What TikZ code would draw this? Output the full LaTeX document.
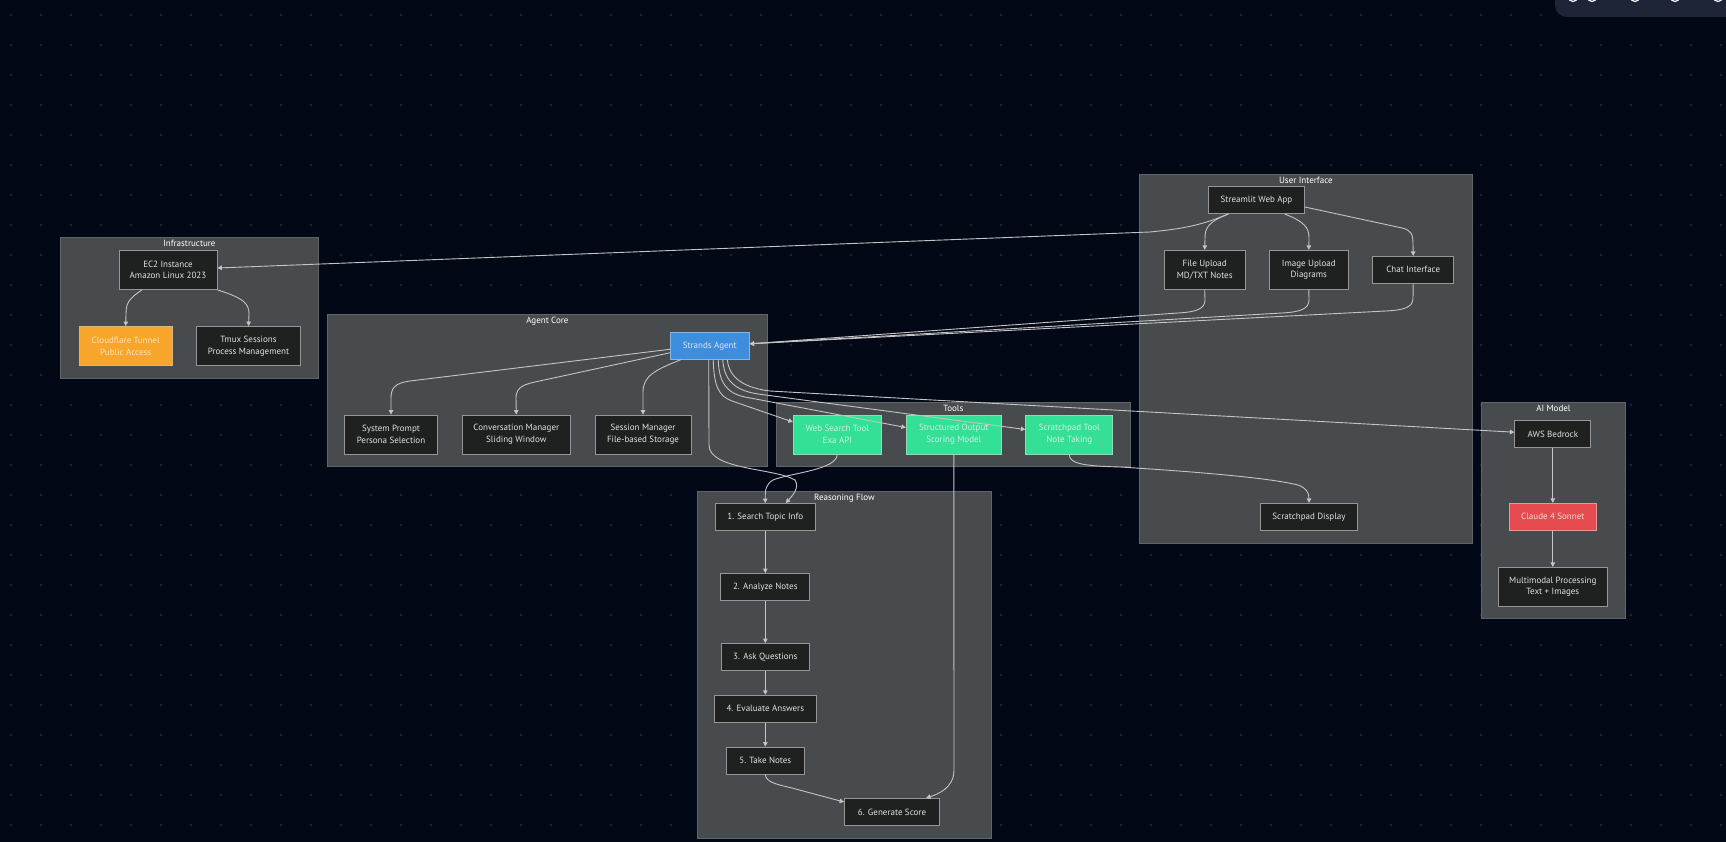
\documentclass[tikz,border=0pt]{standalone}
\usepackage{fontspec}
\setmainfont{PT Sans}
\usepackage{tikz}
\usetikzlibrary{arrows.meta,positioning,calc}
\definecolor{canvasbg}{RGB}{3,8,23}
\definecolor{gridpt}{RGB}{27,33,47}
\definecolor{toolbarbg}{RGB}{30,37,54}
\definecolor{clusterfill}{RGB}{72,75,77}
\definecolor{clusterline}{RGB}{98,101,104}
\definecolor{nodefill}{RGB}{31,32,32}
\definecolor{nodeline}{RGB}{150,150,150}
\definecolor{nodetext}{RGB}{226,226,226}
\definecolor{edgecol}{RGB}{196,196,196}
\definecolor{tunnelorange}{RGB}{248,165,44}
\definecolor{tunneltext}{RGB}{252,228,190}
\definecolor{tunnelline}{RGB}{214,184,128}
\definecolor{agentblue}{RGB}{62,142,222}
\definecolor{agenttext}{RGB}{218,230,242}
\definecolor{agentline}{RGB}{140,178,222}
\definecolor{toolgreen}{RGB}{52,224,150}
\definecolor{tooltext}{RGB}{205,242,224}
\definecolor{toolline}{RGB}{150,216,186}
\definecolor{modelred}{RGB}{230,75,80}
\definecolor{modeltext}{RGB}{250,216,216}
\definecolor{modelline}{RGB}{232,150,150}
\newcommand{\labelfont}{\fontsize{9}{11.7}\selectfont}
\tikzset{
  clusterbox/.style={rectangle,fill=clusterfill,draw=clusterline,line width=0.8pt,anchor=north west,inner sep=0pt},
  clustertitle/.style={text=white,font=\labelfont,inner sep=0pt},
  basebox/.style={rectangle,line width=0.8pt,inner xsep=2pt,inner ysep=0pt,align=center,font=\labelfont},
  plainnode/.style={basebox,fill=nodefill,draw=nodeline,text=nodetext,minimum height=27pt},
  tallnode/.style={plainnode,minimum height=39pt},
  tunnelnode/.style={tallnode,fill=tunnelorange,draw=tunnelline,text=tunneltext},
  agentnode/.style={plainnode,fill=agentblue,draw=agentline,text=agenttext},
  toolnode/.style={tallnode,fill=toolgreen,draw=toolline,text=tooltext},
  modelnode/.style={plainnode,fill=modelred,draw=modelline,text=modeltext},
  flowarr/.style={-{Triangle[length=4.5pt,width=4.5pt]},line width=0.9pt,color=edgecol}
}

\begin{document}
\begin{tikzpicture}[x=1pt,y=-1pt]
  \fill[canvasbg] (0,0) rectangle (1726,842);
  \useasboundingbox (0,0) rectangle (1726,842);
  \foreach \i in {0,...,57}{\foreach \j in {0,...,27}{\fill[gridpt] (11+30*\i,15+30*\j) circle (1.6pt);}}
  \fill[toolbarbg,rounded corners=12pt] (1555,-30) rectangle (1760,17);
  \foreach \k in {1573,1592,1635,1675,1718}{\draw[white,line width=1.2pt] (\k,-3) circle (4.5pt);}

  \node[clusterbox,minimum width=258pt,minimum height=141pt] (infra) at (60,237) {};
  \node[clusterbox,minimum width=440pt,minimum height=152pt] (agentcore) at (327,314) {};
  \node[clusterbox,minimum width=354pt,minimum height=64pt] (tools) at (776,402) {};
  \node[clusterbox,minimum width=333pt,minimum height=369pt] (userif) at (1139,174) {};
  \node[clusterbox,minimum width=144pt,minimum height=216pt] (aimodel) at (1481,402) {};
  \node[clusterbox,minimum width=294pt,minimum height=347pt] (reasoning) at (697,491) {};
  \node[clustertitle,below=2.5pt of infra.north] (infraT) {Infrastructure};
  \node[clustertitle,below=2.5pt of agentcore.north] (agentcoreT) {Agent Core};
  \node[clustertitle,below=2.5pt of tools.north] (toolsT) {Tools};
  \node[clustertitle,below=2.5pt of userif.north] (userifT) {User Interface};
  \node[clustertitle,below=2.5pt of aimodel.north] (aimodelT) {AI Model};
  \node[clustertitle,below=2.5pt of reasoning.north] (reasoningT) {Reasoning Flow};

  \node[tallnode,minimum width=98pt] (ec2) at (168,270) {EC2 Instance\\Amazon Linux 2023};
  \node[tunnelnode,minimum width=93pt] (cloudflare) at (125.7,346) {Cloudflare Tunnel\\Public Access};
  \node[tallnode,minimum width=104pt] (tmux) at (248.5,346) {Tmux Sessions\\Process Management};

  \node[agentnode,minimum width=79pt] (strands) at (709.7,345.8) {Strands Agent};
  \node[tallnode,minimum width=93pt] (sysprompt) at (391,434.5) {System Prompt\\Persona Selection};
  \node[tallnode,minimum width=108pt,right=24pt of sysprompt] (convman) {Conversation Manager\\Sliding Window};
  \node[tallnode,minimum width=96pt,right=23.9pt of convman] (sessman) {Session Manager\\File-based Storage};

  \node[toolnode,minimum width=88pt] (websearch) at (837.3,434.5) {Web Search Tool\\Exa API};
  \node[toolnode,minimum width=95pt,right=24.2pt of websearch] (structout) {Structured Output\\Scoring Model};
  \node[toolnode,minimum width=87pt,right=23.7pt of structout] (scratchtool) {Scratchpad Tool\\Note Taking};

  \node[plainnode,minimum width=96pt] (streamlit) at (1256.5,200) {Streamlit Web App};
  \node[tallnode,minimum width=81pt] (fileup) at (1204.7,269.8) {File Upload\\MD/TXT Notes};
  \node[tallnode,minimum width=79pt,right=23.3pt of fileup] (imageup) {Image Upload\\Diagrams};
  \node[plainnode,minimum width=81pt,right=23.6pt of imageup] (chat) {Chat Interface};
  \node[plainnode,minimum width=97pt] (scratchdisp) at (1309,516.8) {Scratchpad Display};

  \node[plainnode,minimum width=76pt] (bedrock) at (1552.8,434.2) {AWS Bedrock};
  \node[modelnode,minimum width=87pt,below=54.8pt of bedrock] (claude) {Claude 4 Sonnet};
  \node[tallnode,minimum width=109pt,below=36.2pt of claude] (multimodal) {Multimodal Processing\\Text + Images};

  \node[plainnode,minimum width=100pt] (search) at (765.3,517) {1. Search Topic Info};
  \node[plainnode,minimum width=89pt,below=42.2pt of search] (analyze) {2. Analyze Notes};
  \node[plainnode,minimum width=88pt,below=42.2pt of analyze] (askq) {3. Ask Questions};
  \node[plainnode,minimum width=102pt,below=23.9pt of askq] (evalans) {4. Evaluate Answers};
  \node[plainnode,minimum width=78pt,below=24pt of evalans] (takenotes) {5. Take Notes};
  \node[plainnode,minimum width=95pt] (genscore) at (892,812) {6. Generate Score};

  \draw[flowarr] ($(ec2.south)+(-26,0)$) .. controls (128,299) and (126,304) .. (126,314) -- (cloudflare.north);
  \draw[flowarr] (ec2.south east) .. controls (244,298) and (249,304) .. (249,314) -- (tmux.north);

  \draw[flowarr] ($(streamlit.south)+(-28,0)$) .. controls (1200,226) and (1180,229) .. (1150,232) -- ($(ec2.east)+(0,-2)$);
  \draw[flowarr] ($(streamlit.south)+(-28,0)$) .. controls (1208,222) and (1205,228) .. (1205,238) -- (fileup.north);
  \draw[flowarr] ($(streamlit.south)+(28,0)$) .. controls (1305,222) and (1309,228) .. (1309,238) -- (imageup.north);
  \draw[flowarr] ($(streamlit.east)+(0,7)$) -- (1402,228) .. controls (1411,230) and (1413,234) .. (1413,244) -- (chat.north);
  \draw[flowarr] (fileup.south) -- (1205,300) .. controls (1205,309) and (1196,312) .. (1178,313) -- ($(strands.east)+(0,-2)$);
  \draw[flowarr] (imageup.south) -- (1309,300) .. controls (1309,309) and (1300,312) .. (1282,313) -- ($(strands.east)+(0,-2)$);
  \draw[flowarr] (chat.south) -- (1413,298) .. controls (1413,307) and (1405,310) .. (1386,311) -- ($(strands.east)+(0,-2)$);

  \draw[flowarr] ($(strands.west)+(0,3.5)$) -- (410,381) .. controls (395,383) and (391,388) .. (391,398) -- (sysprompt.north);
  \draw[flowarr] ($(strands.west)+(0,7)$) -- (535,382) .. controls (520,385) and (516,390) .. (516,398) -- (convman.north);
  \draw[flowarr] ($(strands.south west)+(11,0)$) .. controls (655,370) and (643,376) .. (643,392) -- (sessman.north);

  \draw[flowarr] ($(strands.south)+(-1,0)$) -- (709,445) .. controls (709,470) and (775,468) .. (795,480) .. controls (800,488) and (792,496) .. ($(search.north)+(20.5,0)$);
  \draw[flowarr] ($(strands.south)+(3.5,0)$) .. controls (714,385) and (718,396) .. (732,401) -- ($(websearch.west)+(0,-12.5)$);
  \draw[flowarr] ($(strands.south)+(8.5,0)$) .. controls (719,382) and (726,393) .. (745,397) -- ($(structout.west)+(0,-7)$);
  \draw[flowarr] ($(strands.south)+(13,0)$) .. controls (724,378) and (732,390) .. (758,394) -- ($(scratchtool.west)+(0,-5)$);
  \draw[flowarr] ($(strands.south)+(17.5,0)$) .. controls (729,374) and (738,387) .. (770,391) -- ($(bedrock.west)+(0,-2)$);

  \draw[flowarr] (websearch.south) .. controls (837,470) and (790,473) .. (773,480) .. controls (766,484) and (765,490) .. (search.north);
  \draw[flowarr] (structout.south) -- (954,770) .. controls (954,788) and (938,794) .. ($(genscore.north)+(34,0)$);
  \draw[flowarr] (scratchtool.south) .. controls (1069,464) and (1085,466) .. (1120,467) .. controls (1200,472) and (1270,478) .. (1298,485) .. controls (1306,488) and (1309,492) .. (scratchdisp.north);

  \draw[flowarr] (bedrock) -- (claude);
  \draw[flowarr] (claude) -- (multimodal);

  \draw[flowarr] (search) -- (analyze);
  \draw[flowarr] (analyze) -- (askq);
  \draw[flowarr] (askq) -- (evalans);
  \draw[flowarr] (evalans) -- (takenotes);
  \draw[flowarr] (takenotes.south) .. controls (766,782) and (775,784) .. (792,788) -- ($(genscore.west)+(0,-10)$);
\end{tikzpicture}
\end{document}
